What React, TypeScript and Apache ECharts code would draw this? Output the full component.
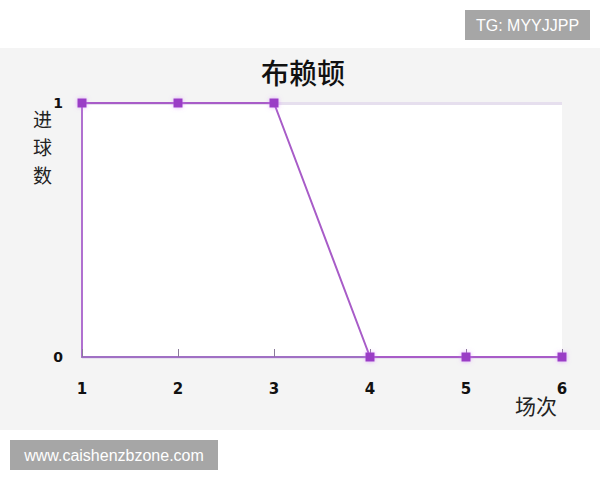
import * as echarts from "echarts";
import { useEffect, useRef } from "react";

// 场次 (matches) and goals for 布赖顿
const matches = ["1", "2", "3", "4", "5", "6"];
const goals = [1, 1, 1, 0, 0, 0];
const yTicks = [0, 1];

const App = () => {
  const chartRef = useRef<HTMLDivElement>(null);

  useEffect(() => {
    document.body.style.margin = "0";
    if (!chartRef.current) return;
    const myChart = echarts.init(chartRef.current, undefined, { renderer: "svg" });

    const option = {
      animation: false,
      backgroundColor: "#ffffff",
      title: {
        text: "布赖顿",
        top: 53,
        left: 298,
        textAlign: "center",
        textStyle: {
          fontSize: 28,
          fontWeight: 500,
          color: "#111",
          fontFamily: "Noto Sans CJK SC",
        },
      },
      graphic: [
        {
          type: "rect",
          z: -10,
          silent: true,
          shape: { x: 0, y: 48, width: 600, height: 382 },
          style: { fill: "#f4f4f4" },
        },
        {
          type: "group",
          left: 465,
          top: 10,
          children: [
            { type: "rect", shape: { x: 0, y: 0, width: 125, height: 30 }, style: { fill: "#a6a6a6" } },
            {
              type: "text",
              x: 62.5,
              y: 15,
              style: {
                text: "TG: MYYJJPP",
                fill: "#ffffff",
                fontSize: 16,
                fontFamily: "Liberation Sans",
                align: "center",
                verticalAlign: "middle",
              },
            },
          ],
        },
        {
          type: "group",
          left: 10,
          top: 440,
          children: [
            { type: "rect", shape: { x: 0, y: 0, width: 208, height: 30 }, style: { fill: "#a6a6a6" } },
            {
              type: "text",
              x: 104,
              y: 15,
              style: {
                text: "www.caishenzbzone.com",
                fill: "#ffffff",
                fontSize: 16,
                fontFamily: "Liberation Sans",
                align: "center",
                verticalAlign: "middle",
              },
            },
          ],
        },
      ],
      grid: {
        left: 82,
        right: 38,
        top: 103,
        bottom: 123,
        show: true,
        backgroundColor: "#ffffff",
        borderWidth: 0,
        containLabel: false,
        outerBoundsMode: "none",
      },
      xAxis: {
        type: "category",
        data: matches,
        boundaryGap: false,
        name: "场次",
        nameLocation: "end",
        nameGap: -5,
        nameMoveOverlap: false,
        nameTextStyle: {
          align: "right",
          verticalAlign: "top",
          padding: [38, 0, 0, 0],
          fontSize: 21,
          color: "#222",
          fontFamily: "Noto Sans CJK SC",
        },
        axisLine: { lineStyle: { color: "#a070c4", width: 2 } },
        axisTick: { show: true, inside: true, length: 8, lineStyle: { color: "#8a7a9a", width: 1 } },
        axisLabel: {
          margin: 24,
          fontSize: 15,
          fontWeight: "bold",
          color: "#111",
          fontFamily: "DejaVu Sans",
        },
        splitLine: { show: false },
      },
      yAxis: {
        type: "value",
        min: yTicks[0],
        max: yTicks[yTicks.length - 1],
        interval: 1,
        name: "进\n球\n数",
        nameLocation: "end",
        nameGap: -1,
        nameMoveOverlap: false,
        nameTextStyle: {
          align: "right",
          verticalAlign: "top",
          padding: [0, 30, 0, 0],
          fontSize: 19,
          lineHeight: 28,
          color: "#222",
          fontFamily: "Noto Sans CJK SC",
        },
        axisLine: { show: true, lineStyle: { color: "#b070d0", width: 2 } },
        axisTick: { show: false },
        axisLabel: {
          margin: 19,
          fontSize: 14,
          fontWeight: "bold",
          color: "#111",
          fontFamily: "DejaVu Sans",
        },
        splitLine: { show: true, lineStyle: { color: "#e6dfee", width: 3 } },
      },
      series: [
        {
          type: "line",
          data: goals,
          symbol: "rect",
          symbolSize: 9,
          lineStyle: { color: "#a85cc8", width: 2 },
          itemStyle: {
            color: "#9a3cc6",
            shadowColor: "rgba(210,120,255,0.6)",
            shadowBlur: 4,
          },
          z: 5,
        },
      ],
    };

    myChart.setOption(option);

    return () => {
      myChart.dispose();
    };
  }, []);

  return <div ref={chartRef} style={{ width: "600px", height: "480px" }} />;
};

export default App;
